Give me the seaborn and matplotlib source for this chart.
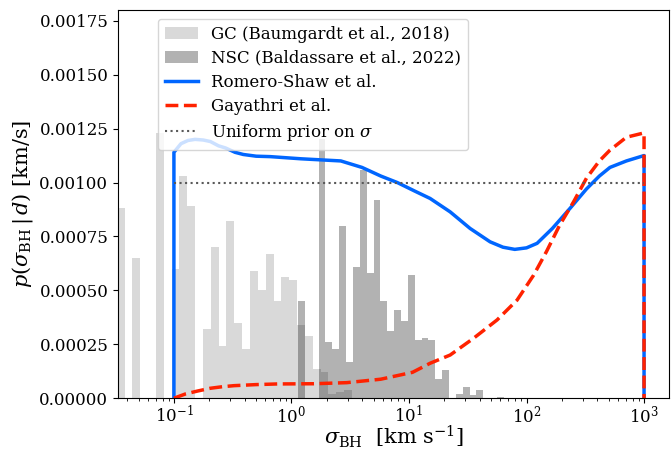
import numpy as np
import pandas as pd
import matplotlib
matplotlib.use('Agg')
import matplotlib.pyplot as plt
import seaborn as sns

# GC histogram (Baumgardt et al., 2018): log10 bin edges and bar heights
gc_log_edges = list(np.linspace(-1.486, 0.514, 31))
gc_heights = [0.00088, 0, 0.00065, 0, 0, 0.00123, 0, 0.0006, 0.00103, 0.00089,
              0, 0.00032, 0.0007, 0.00024, 0.00082, 0.00035, 0.000227, 0.00059, 0.0005, 0.00067,
              0.00045, 0.00056, 0.00055, 0.00034, 0.00029, 0.000134, 0.00012, 0.00002, 0.00003, 0.00004]

# NSC histogram (Baldassare et al., 2022)
nsc_log_edges = list(np.linspace(0.056, 1.808, 31))
nsc_heights = [0.00045, 0, 0, 0.0012, 0.00026, 0.000227, 0.0008, 0.00017, 0.00061, 0.00106,
               0.00058, 0.00092, 0.00045, 0.00031, 0.00041, 0.00036, 0.00057, 0.00027, 0.00028, 0.00027,
               0.00009, 0.00013, 0, 0.00002, 0.00005, 0.000015, 0.000037, 0, 0, 0.000005]

# Romero-Shaw et al. posterior (log10 sigma, density)
rs_log_sigma = [-1, -1, -0.94, -0.88, -0.82, -0.75, -0.69, -0.62, -0.56, -0.48, -0.41, -0.3,
                -0.18, -0.05, 0.08, 0.25, 0.42, 0.6, 0.76, 0.9, 1.05, 1.18, 1.35, 1.52,
                1.69, 1.8, 1.9, 2.0, 2.09, 2.22, 2.37, 2.51, 2.62, 2.71, 2.85, 3.0, 3.0]
rs_density = [0, 0.00114, 0.00118, 0.001195, 0.0012, 0.001197, 0.00119, 0.00117, 0.00116, 0.00114,
              0.00113, 0.001122, 0.00112, 0.001115, 0.00111, 0.001105, 0.0011, 0.00107, 0.00103, 0.001,
              0.00096, 0.000926, 0.000864, 0.000787, 0.000725, 0.0007, 0.00069, 0.000697, 0.000718,
              0.000787, 0.00088, 0.00097, 0.00103, 0.00107, 0.0011, 0.001125, 0]

# Gayathri et al. posterior
ga_log_sigma = [-1, -0.9, -0.8, -0.69, -0.59, -0.49, -0.3, -0.12, 0.19, 0.47, 0.76, 1.03, 1.18,
                1.35, 1.55, 1.75, 1.92, 2.06, 2.17, 2.28, 2.4, 2.51, 2.62, 2.71, 2.85, 3.0, 3.0]
ga_density = [0, 0.00002, 0.000033, 0.000046, 0.000053, 0.000058, 0.000063, 0.000066, 0.000067,
              0.000072, 0.000088, 0.00012, 0.000162, 0.0002, 0.000278, 0.000363, 0.000455, 0.00057,
              0.00068, 0.0008, 0.00091, 0.00102, 0.0011, 0.00115, 0.00121, 0.00123, 0]

# uniform prior on sigma in [0.1, 1000]
prior_sigma = [0.1, 1000]
prior_density = [0.001, 0.001]

plt.rcParams['font.family'] = 'serif'
plt.rcParams['font.serif'] = ['DejaVu Serif']
plt.rcParams['mathtext.fontset'] = 'dejavuserif'

fig = plt.figure(figsize=(6.71, 4.53), dpi=100)
ax = fig.add_axes([0.176, 0.121, 0.821, 0.857])

# histograms, bins given in log10 units since log_scale is on
gc_mid = (np.array(gc_log_edges[:-1]) + np.array(gc_log_edges[1:])) / 2
nsc_mid = (np.array(nsc_log_edges[:-1]) + np.array(nsc_log_edges[1:])) / 2
gc = pd.DataFrame({'sigma': 10 ** gc_mid, 'p': gc_heights})
nsc = pd.DataFrame({'sigma': 10 ** nsc_mid, 'p': nsc_heights})
sns.histplot(data=gc, x='sigma', weights='p', bins=gc_log_edges, log_scale=True, ax=ax,
             color='k', alpha=0.15, edgecolor='none', linewidth=0,
             label='GC (Baumgardt et al., 2018)')
sns.histplot(data=nsc, x='sigma', weights='p', bins=nsc_log_edges, log_scale=True, ax=ax,
             color='k', alpha=0.3, edgecolor='none', linewidth=0,
             label='NSC (Baldassare et al., 2022)')

rs = pd.DataFrame({'sigma': 10 ** np.array(rs_log_sigma), 'p': rs_density})
ga = pd.DataFrame({'sigma': 10 ** np.array(ga_log_sigma), 'p': ga_density})
sns.lineplot(data=rs, x='sigma', y='p', ax=ax, estimator=None, sort=False,
             color='#0066ff', linewidth=2.5, label='Romero-Shaw et al.')
sns.lineplot(data=ga, x='sigma', y='p', ax=ax, estimator=None, sort=False,
             color='#ff2200', linewidth=2.5, linestyle='--', label='Gayathri et al.')
sns.lineplot(x=prior_sigma, y=prior_density, ax=ax, estimator=None, sort=False,
             color='0.35', linewidth=1.5, linestyle=':', label=r'Uniform prior on $\sigma$')

ax.set_xscale('log')
ax.set_xlim(0.0335, 1630)
ax.set_ylim(0, 0.0018)
ax.set_yticks(np.arange(0, 0.00176, 0.00025))
ax.tick_params(labelsize=12)
ax.tick_params(axis='x', which='major', pad=1)

ax.set_xlabel(r'$\sigma_{\rm BH}\ \ [{\rm km\ s^{-1}}]$', fontsize=15)
ax.set_ylabel(r'$p(\sigma_{\rm BH}\,|\,d)$ [km/s]', fontsize=15)
ax.xaxis.set_label_coords(0.5, -0.066)
ax.yaxis.set_label_coords(-0.15, 0.5)

order = ['GC (Baumgardt et al., 2018)', 'NSC (Baldassare et al., 2022)',
         'Romero-Shaw et al.', 'Gayathri et al.', r'Uniform prior on $\sigma$']
handles, labels = ax.get_legend_handles_labels()
lookup = dict(zip(labels, handles))
ax.legend([lookup[l] for l in order], order, loc='upper left',
          bbox_to_anchor=(0.0726, 0.977), borderaxespad=0, fontsize=12, labelspacing=0.43)

fig.savefig('out.png', dpi=100)
